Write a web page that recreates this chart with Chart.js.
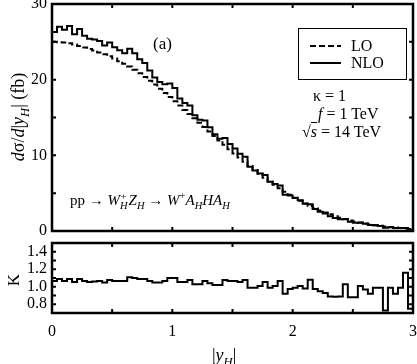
<!DOCTYPE html>
<html>
<head>
<meta charset="utf-8">
<script src="https://cdn.jsdelivr.net/npm/chart.js@4.4.1/dist/chart.umd.min.js"></script>
<style>
  body { margin: 0; background: #fff; }
  #wrap { position: relative; width: 417px; height: 364px; overflow: hidden;
          font-family: "Liberation Serif", "DejaVu Serif", serif; color: #000; }
  canvas { position: absolute; left: 0; }
  .t { position: absolute; white-space: nowrap; line-height: 1; }
  .rot { transform: translate(-50%, -50%) rotate(-90deg); }
  .ss { display: inline-flex; flex-direction: column; vertical-align: middle;
        font-size: 0.7em; line-height: 0.9; font-style: italic; margin-right: 1px; }
  sub { font-size: 0.7em; line-height: 0; font-style: italic; }
  sup { font-size: 0.7em; line-height: 0; }
  .over { border-top: 1px solid #000; padding-top: 1px; display: inline-block; line-height: 1; }
  #legend { position: absolute; left: 298px; top: 28px; width: 107px; height: 50px;
            border: 1.5px solid #000; }
</style>
</head>
<body>
<div id="wrap">
  <canvas id="mainChart" width="417" height="240" style="top:0"></canvas>
  <canvas id="ratioChart" width="417" height="124" style="top:240px"></canvas>

  <div class="t rot" style="left:18px; top:117px; font-size:18px;"><i>d</i>σ/<i>d</i>|<i>y</i><sub>H</sub>| (fb)</div>
  <div class="t" style="left:153px; top:35px; font-size:17px;">(a)</div>
  <div id="legend">
    <svg width="107" height="50" style="position:absolute;left:0;top:0">
      <line x1="11" y1="17" x2="42" y2="17" stroke="#000" stroke-width="2" stroke-dasharray="6,3"/>
      <line x1="11" y1="34" x2="42" y2="34" stroke="#000" stroke-width="2"/>
    </svg>
    <div class="t" style="left:52px; top:9px; font-size:16px;">LO</div>
    <div class="t" style="left:52px; top:26px; font-size:16px;">NLO</div>
  </div>
  <div class="t" style="left:313px; top:88px; font-size:16px;">κ = 1</div>
  <div class="t" style="left:318px; top:106px; font-size:16px;"><i>f</i> = 1 TeV</div>
  <div class="t" style="left:302px; top:122px; font-size:16px;">√<span class="over"><i>s</i></span> = 14 TeV</div>
  <div class="t" style="left:70px; top:192px; font-size:15px;">pp → <i>W</i><span class="ss"><span>+</span><span>H</span></span><i>Z</i><sub>H</sub> → <i>W</i><sup>+</sup><i>A</i><sub>H</sub><i>HA</i><sub>H</sub></div>
  <div class="t rot" style="left:13px; top:280px; font-size:17px;">K</div>
  <div class="t" style="left:212px; top:346px; font-size:18px;">|<i>y</i><sub>H</sub>|</div>
</div>

<script>
// Histogram binning of |y_H| (72 bins from 0 to 3)
const Y_MIN = 0;
const Y_MAX = 3;
const BIN_COUNT = 72;

// LO distribution dsigma/d|y_H| (fb), one value per bin
const loValues = [
  25.0, 24.95, 24.9, 24.8, 24.65, 24.45, 24.25, 24.05, 23.85, 23.6, 23.35, 23.1,
  22.8, 22.45, 22.1, 21.75, 21.3, 20.85, 20.35, 19.85, 19.35, 18.8, 18.25, 17.7,
  17.15, 16.6, 16.0, 15.45, 14.9, 14.3, 13.75, 13.15, 12.55, 11.95, 11.4, 10.8,
  10.25, 9.7, 9.15, 8.6, 8.05, 7.55, 7.05, 6.55, 6.1, 5.65, 5.2, 4.8,
  4.4, 4.0, 3.65, 3.3, 3.0, 2.7, 2.45, 2.2, 1.95, 1.75, 1.55, 1.4,
  1.25, 1.1, 0.98, 0.87, 0.77, 0.68, 0.6, 0.52, 0.45, 0.39, 0.33, 0.28
];

// NLO distribution dsigma/d|y_H| (fb)
const nloValues = [
  26.3, 27.0, 26.6, 27.1, 26.0, 26.7, 25.8, 25.4, 25.3, 25.1, 24.5, 24.9,
  24.3, 23.9, 23.5, 24.1, 23.5, 22.7, 22.2, 21.2, 20.3, 19.7, 19.4, 19.5,
  18.9, 17.5, 16.9, 16.6, 15.3, 14.7, 14.6, 13.7, 12.8, 12.2, 12.3, 11.5,
  10.9, 10.2, 9.8, 8.5, 8.0, 7.6, 7.4, 6.5, 6.2, 6.0, 4.8, 4.7,
  4.35, 4.05, 3.6, 3.55, 2.9, 2.55, 2.3, 1.95, 1.72, 1.55, 1.6, 1.23,
  1.1, 1.11, 0.95, 0.8, 0.76, 0.67, 0.44, 0.51, 0.41, 0.39, 0.38, 0.21
];

// K factor (NLO / LO)
const kValues = [
  1.065, 1.09, 1.065, 1.09, 1.054, 1.09, 1.065, 1.054, 1.06, 1.065, 1.05, 1.076,
  1.065, 1.065, 1.065, 1.11, 1.10, 1.09, 1.09, 1.065, 1.05, 1.05, 1.065, 1.10,
  1.10, 1.054, 1.054, 1.076, 1.03, 1.03, 1.065, 1.04, 1.02, 1.02, 1.076, 1.065,
  1.065, 1.054, 1.076, 0.99, 0.99, 1.01, 1.054, 0.99, 1.01, 1.065, 0.92, 0.975,
  0.99, 1.01, 0.98, 1.08, 0.975, 0.95, 0.93, 0.89, 0.885, 0.89, 1.03, 0.88,
  0.88, 1.01, 0.97, 0.92, 0.99, 0.99, 0.73, 0.99, 0.92, 0.99, 1.16, 0.75
];

// Axis ticks
const mainYTickLabels = [0, 10, 20, 30];
const ratioYTickLabels = ['0.8', '1.0', '1.2', '1.4'];
const xTickLabels = [0, 1, 2, 3];

const FONT = { family: '"Liberation Serif", "DejaVu Serif", serif', size: 16 };

// Turn bin values into step points (left edge of each bin + closing point)
function toSteps(values) {
  const w = (Y_MAX - Y_MIN) / BIN_COUNT;
  const pts = values.map((v, i) => ({ x: Y_MIN + i * w, y: v }));
  pts.push({ x: Y_MAX, y: values[values.length - 1] });
  return pts;
}

// Fix axis size and drop the label overflow padding so the frames line up
function fixSize(prop, size) {
  return s => {
    s[prop] = size;
    s.paddingTop = 0; s.paddingBottom = 0; s.paddingLeft = 0; s.paddingRight = 0;
  };
}

// Box frame + inward ticks on all four sides
const frameTicks = {
  id: 'frameTicks',
  afterDatasetsDraw(chart, args, opts) {
    const { ctx, chartArea: a, scales } = chart;
    const len = opts.len || 4;
    ctx.save();
    ctx.strokeStyle = '#000';
    ctx.lineWidth = 2;
    ctx.beginPath();
    scales.x.ticks.forEach(t => {
      const px = scales.x.getPixelForValue(t.value);
      ctx.moveTo(px, a.bottom); ctx.lineTo(px, a.bottom - len);
      ctx.moveTo(px, a.top); ctx.lineTo(px, a.top + len);
    });
    scales.y.ticks.forEach(t => {
      const py = scales.y.getPixelForValue(t.value);
      ctx.moveTo(a.left, py); ctx.lineTo(a.left + len, py);
      ctx.moveTo(a.right, py); ctx.lineTo(a.right - len, py);
    });
    ctx.stroke();
    ctx.lineWidth = 2.5;
    ctx.strokeRect(a.left, a.top, a.right - a.left, a.bottom - a.top);
    ctx.restore();
  }
};

const lineStyle = { borderColor: '#000', borderWidth: 2, stepped: true, pointRadius: 0, fill: false };

// Main panel
new Chart(document.getElementById('mainChart'), {
  type: 'line',
  data: {
    datasets: [
      { label: 'LO', data: toSteps(loValues), borderDash: [6, 3], ...lineStyle },
      { label: 'NLO', data: toSteps(nloValues), ...lineStyle }
    ]
  },
  options: {
    animation: false,
    responsive: false,
    layout: { padding: { top: 4, right: 4, bottom: 9, left: 0 } },
    plugins: { legend: { display: false }, tooltip: { enabled: false }, frameTicks: { len: 4 } },
    scales: {
      x: {
        type: 'linear', min: Y_MIN, max: Y_MAX,
        ticks: { stepSize: 0.5, display: false },
        grid: { display: false, drawTicks: false }, border: { display: false },
        afterFit: fixSize('height', 0)
      },
      y: {
        min: 0, max: 30,
        ticks: {
          stepSize: 5, color: '#000', font: FONT, padding: 5,
          callback: v => mainYTickLabels.includes(v) ? String(v) : ''
        },
        grid: { display: false, drawTicks: false }, border: { display: false },
        afterFit: fixSize('width', 52)
      }
    }
  },
  plugins: [frameTicks]
});

// Ratio (K factor) panel
new Chart(document.getElementById('ratioChart'), {
  type: 'line',
  data: {
    datasets: [
      { label: 'K', data: toSteps(kValues), ...lineStyle }
    ]
  },
  options: {
    animation: false,
    responsive: false,
    layout: { padding: { top: 3, right: 4, bottom: 0, left: 0 } },
    plugins: { legend: { display: false }, tooltip: { enabled: false }, frameTicks: { len: 4 } },
    scales: {
      x: {
        type: 'linear', min: Y_MIN, max: Y_MAX,
        ticks: {
          stepSize: 0.5, color: '#000', font: FONT, padding: 9, maxRotation: 0, autoSkip: false,
          callback: v => xTickLabels.includes(v) ? String(v) : ''
        },
        grid: { display: false, drawTicks: false }, border: { display: false },
        afterFit: fixSize('height', 51)
      },
      y: {
        min: 0.7, max: 1.5,
        ticks: {
          stepSize: 0.1, color: '#000', font: FONT, padding: 5, autoSkip: false,
          callback: v => {
            const s = Number(v).toFixed(1);
            return ratioYTickLabels.includes(s) ? s : '';
          }
        },
        grid: { display: false, drawTicks: false }, border: { display: false },
        afterFit: fixSize('width', 52)
      }
    }
  },
  plugins: [frameTicks]
});
</script>
</body>
</html>
